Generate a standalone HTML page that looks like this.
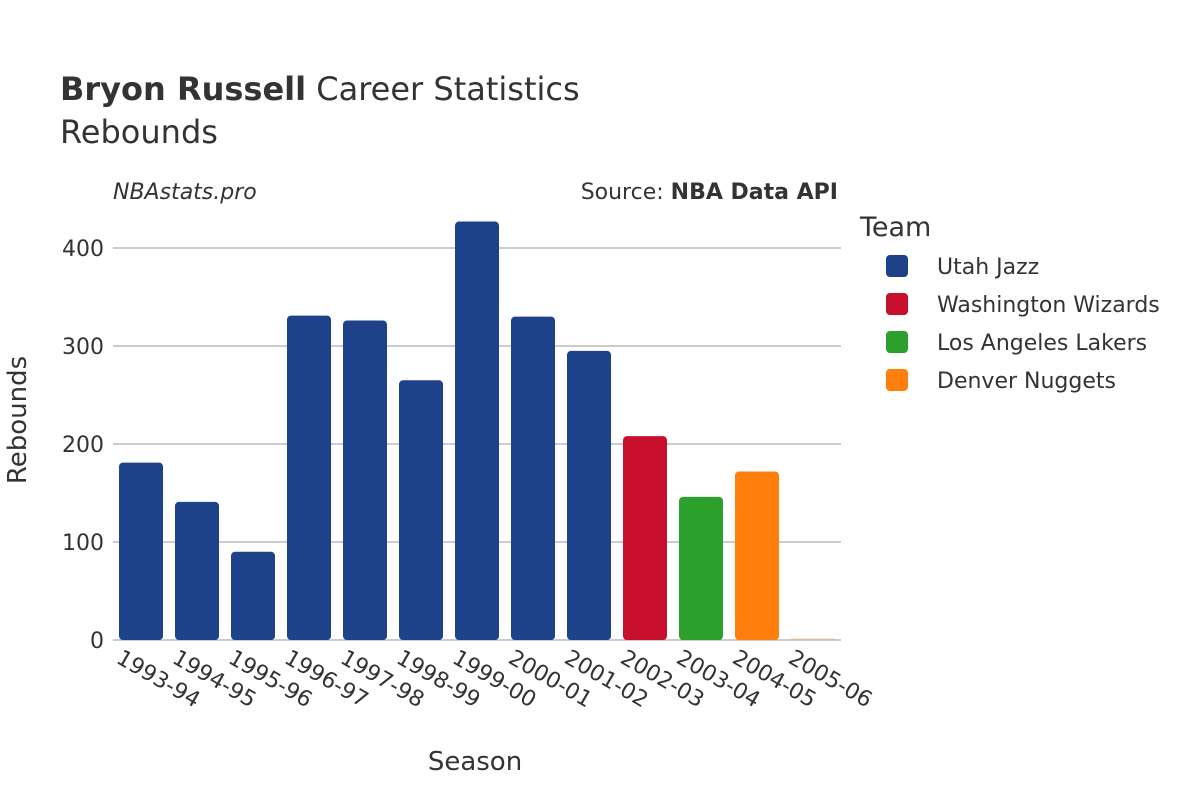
<!DOCTYPE html>
<html><head><meta charset="utf-8"><style>
body{margin:0;background:#fff;font-family:"Liberation Sans","DejaVu Sans",sans-serif;}
svg text{font-family:"DejaVu Sans","Liberation Sans",sans-serif;fill:#333;}
</style></head><body>
<svg id="chart" width="1200" height="800" xmlns="http://www.w3.org/2000/svg">
<text x="60" y="100" font-size="32"><tspan font-weight="bold">Bryon Russell</tspan> Career Statistics</text>
<text x="60" y="143" font-size="32">Rebounds</text>
<text x="113" y="199" font-size="22" font-style="italic">NBAstats.pro</text>
<text x="838" y="199" font-size="22" text-anchor="end">Source: <tspan font-weight="bold">NBA Data API</tspan></text>
<g id="grid"></g>
<g id="bars"></g>
<g id="xticks"></g>
<text x="475" y="770" font-size="26" text-anchor="middle">Season</text>
<text transform="translate(26,420) rotate(-90)" font-size="26" text-anchor="middle">Rebounds</text>
<text x="860" y="236" font-size="27">Team</text>
<g id="legend"></g>
</svg>
<script>
const seasons=["1993-94","1994-95","1995-96","1996-97","1997-98","1998-99","1999-00","2000-01","2001-02","2002-03","2003-04","2004-05","2005-06"];
const rebounds=[181,141,90,331,326,265,427,330,295,208,146,172,2];
const teams=["Utah Jazz","Utah Jazz","Utah Jazz","Utah Jazz","Utah Jazz","Utah Jazz","Utah Jazz","Utah Jazz","Utah Jazz","Washington Wizards","Los Angeles Lakers","Denver Nuggets","Denver Nuggets"];
const yTicks=[0,100,200,300,400];
const legendTeams=["Utah Jazz","Washington Wizards","Los Angeles Lakers","Denver Nuggets"];
const colors={"Utah Jazz":"#1d428a","Washington Wizards":"#c8102e","Los Angeles Lakers":"#2ca02c","Denver Nuggets":"#ff7f0e"};
const NS="http://www.w3.org/2000/svg";
const x0=113,x1=841,y0=640,yScale=0.98;
const slot=(x1-x0)/seasons.length;
const X=i=>x0+slot*i+slot/2;
const Y=v=>y0-v*yScale;
function mk(t,a){const e=document.createElementNS(NS,t);for(const k in a)e.setAttribute(k,a[k]);return e;}
const grid=document.getElementById('grid');
yTicks.forEach(v=>{
 const l=mk('line',{x1:x0,x2:x1,y1:Y(v),y2:Y(v),stroke:'#999','stroke-width':1});
 
 
 grid.appendChild(l);
 const t=mk('text',{x:104,y:Y(v)+8,'font-size':22,'text-anchor':'end'});
 t.textContent=v;
 
 
 grid.appendChild(t);
});
const bars=document.getElementById('bars'),xt=document.getElementById('xticks');
seasons.forEach((s,i)=>{
 const v=rebounds[i],w=44,h=v*yScale;
 const r=mk('rect',{x:X(i)-w/2,y:Y(v),width:w,height:h,rx:Math.min(4,h/2),fill:colors[teams[i]]});
 if(v<5)r.setAttribute('opacity','0.2');
 
 
 bars.appendChild(r);
 const t=mk('text',{x:0,y:0,'font-size':22,transform:`translate(${X(i)-26},${y0+22}) rotate(30)`});
 t.textContent=s;
 
 
 xt.appendChild(t);
});
const lg=document.getElementById('legend');
legendTeams.forEach((tm,i)=>{
 const g=mk('g',{});
 
 
 const y=266+i*38;
 g.appendChild(mk('rect',{x:886,y:y-11,width:22,height:22,rx:4,fill:colors[tm]}));
 const t=mk('text',{x:937,y:y+8,'font-size':22});t.textContent=tm;g.appendChild(t);
 lg.appendChild(g);
});
</script>
</body></html>
